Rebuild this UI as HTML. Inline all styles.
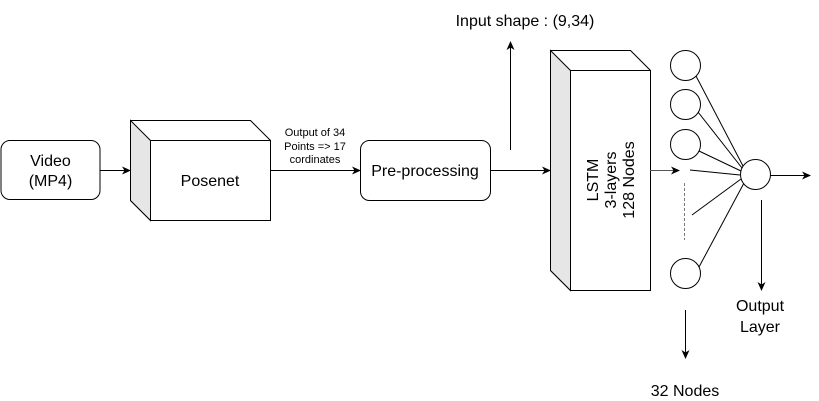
<!DOCTYPE html>
<html><head><meta charset="utf-8"><style>
html,body{margin:0;padding:0;background:#fff;}
svg{display:block;}
text{font-family:"Liberation Sans",sans-serif;fill:#000;}
</style></head><body>
<svg width="819" height="401" viewBox="0 0 819 401" xmlns="http://www.w3.org/2000/svg">
<defs>
<marker id="a" markerWidth="10" markerHeight="10" refX="8" refY="4" orient="auto" markerUnits="userSpaceOnUse">
<path d="M0,0 L9,4 L0,8 L2.5,4 Z" fill="#000"/></marker>
<marker id="g" markerWidth="10" markerHeight="10" refX="8" refY="4" orient="auto" markerUnits="userSpaceOnUse">
<path d="M0,0 L9,4 L0,8 L2.5,4 Z" fill="#000"/></marker>
</defs>
<g stroke="#000" stroke-width="1" fill="none">
<!-- Video -->
<rect x="1" y="140.5" width="99" height="59" rx="9" fill="#fff"/>
<line x1="100" y1="170.5" x2="130" y2="170.5" marker-end="url(#a)"/>
<!-- Posenet cube -->
<path d="M130.5,120.5 L250.5,120.5 L270.5,140.5 L270.5,220.5 L150.5,220.5 L130.5,200.5 Z" fill="#fff"/>
<path d="M130.5,120.5 L150.5,140.5 L150.5,220.5 L130.5,200.5 Z" fill="#e6e6e6"/>
<path d="M150.5,140.5 L270.5,140.5"/>
<line x1="270" y1="170.5" x2="360" y2="170.5" marker-end="url(#a)"/>
<!-- Pre-processing -->
<rect x="360.5" y="140.5" width="130" height="60" rx="9" fill="#fff"/>
<line x1="490" y1="170.5" x2="550" y2="170.5" marker-end="url(#a)"/>
<line x1="510.5" y1="150" x2="510.5" y2="42" marker-end="url(#a)"/>
<!-- LSTM -->
<path d="M550.5,50.5 L630.5,50.5 L650.5,70.5 L650.5,290.5 L570.5,290.5 L550.5,270.5 Z" fill="#fff"/>
<path d="M550.5,50.5 L570.5,70.5 L570.5,290.5 L550.5,270.5 Z" fill="#e6e6e6"/>
<path d="M570.5,70.5 L650.5,70.5"/>
<line x1="650" y1="170.5" x2="679" y2="170.5" stroke="#555" marker-end="url(#g)"/>
<!-- neurons -->
<circle cx="685.5" cy="65.5" r="15" fill="#fff"/>
<circle cx="685.5" cy="104.5" r="15" fill="#fff"/>
<circle cx="685.5" cy="144.5" r="15" fill="#fff"/>
<circle cx="685.5" cy="273.5" r="15" fill="#fff"/>
<line x1="684.5" y1="183" x2="684.5" y2="240" stroke="#777" stroke-dasharray="3,2"/>
<line x1="696" y1="76" x2="743" y2="166"/>
<line x1="698" y1="112" x2="742" y2="168"/>
<line x1="699" y1="151" x2="741" y2="171"/>
<line x1="690" y1="170" x2="740" y2="175"/>
<line x1="692" y1="215" x2="741" y2="179"/>
<line x1="699" y1="267" x2="744" y2="183"/>
<circle cx="755.5" cy="174.5" r="15" fill="#fff"/>
<line x1="770" y1="175.5" x2="810" y2="175.5" marker-end="url(#a)"/>
<line x1="761.5" y1="200" x2="761.5" y2="290" marker-end="url(#a)"/>
<line x1="685.5" y1="310" x2="685.5" y2="358" marker-end="url(#a)"/>
</g>
<text x="50.5" y="166" font-size="16" text-anchor="middle">Video</text>
<text x="50.5" y="186" font-size="16" text-anchor="middle">(MP4)</text>
<text x="210" y="186" font-size="16" text-anchor="middle">Posenet</text>
<text x="315" y="136" font-size="11" text-anchor="middle">Output of 34</text>
<text x="315" y="150" font-size="11" text-anchor="middle">Points =&gt; 17</text>
<text x="315" y="163" font-size="11" text-anchor="middle">cordinates</text>
<text x="425" y="176" font-size="16" text-anchor="middle">Pre-processing</text>
<text x="525" y="26" font-size="16" text-anchor="middle">Input shape : (9,34)</text>
<g transform="translate(610,180) rotate(-90)">
<text x="0" y="-12" font-size="16" text-anchor="middle">LSTM</text>
<text x="0" y="6" font-size="16" text-anchor="middle">3-layers</text>
<text x="0" y="24" font-size="16" text-anchor="middle">128 Nodes</text>
</g>
<text x="760" y="311" font-size="16" text-anchor="middle">Output</text>
<text x="760" y="332" font-size="16" text-anchor="middle">Layer</text>
<text x="685" y="396" font-size="16" text-anchor="middle">32 Nodes</text>
</svg>
</body></html>
